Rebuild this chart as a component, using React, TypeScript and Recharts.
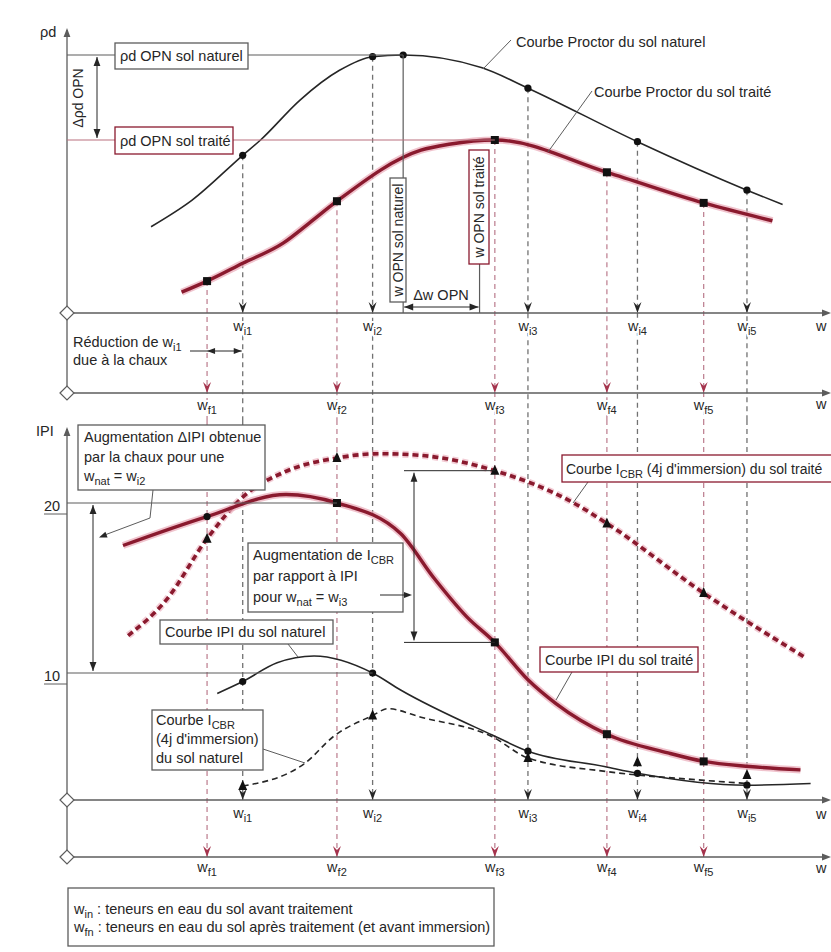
import React from 'react';
import {
  ComposedChart,
  Line,
  XAxis,
  YAxis,
  ReferenceLine,
  ReferenceDot,
} from 'recharts';

const W = 831;
const H = 952;
const LEFT = 67;
const W_MAX = 30;

const FONT = '"Liberation Sans", Arial, Helvetica, sans-serif';
const INK = '#262626';
const GREY = '#5c5c5c';
const RED = '#8a1a2e';
const RED_HALO = '#eaa9b8';
const RED_THIN = '#b9707f';
const DASH_BLACK = '#727272';
const DASH_RED = '#c08595';
const RED_HEAD = '#a5344d';

// teneurs en eau (%) avant (wi) et après (wf) traitement
const wI = [6.9, 12.0, 18.1, 22.4, 26.7];
const wF = [5.5, 10.6, 16.8, 21.2, 25.0];
const subsI = ['i1', 'i2', 'i3', 'i4', 'i5'];
const subsF = ['f1', 'f2', 'f3', 'f4', 'f5'];
const wOpnNaturel = 13.2;
const wOpnTraite = 16.2;
const rhoOpnNaturel = 1.9;
const rhoOpnTraite = 1.8;
const ipiTicks = [10, 20];

// courbes Proctor (ρd, t/m³) ; m = point d'essai
const proctorNaturel = [
  { w: 3.3, rho: 1.698 },
  { w: 4.9, rho: 1.729 },
  { w: wI[0], rho: 1.782, m: 'o' },
  { w: 7.6, rho: 1.8 },
  { w: 9.15, rho: 1.847 },
  { w: 10.7, rho: 1.882 },
  { w: wI[1], rho: 1.898, m: 'o' },
  { w: wOpnNaturel, rho: rhoOpnNaturel, m: 'o' },
  { w: 16.3, rho: 1.885 },
  { w: wI[2], rho: 1.861, m: 'o' },
  { w: wI[3], rho: 1.798, m: 'o' },
  { w: wI[4], rho: 1.741, m: 'o' },
  { w: 28.1, rho: 1.724 },
];

const proctorTraite = [
  { w: 4.5, rho: 1.621 },
  { w: wF[0], rho: 1.634, m: 's' },
  { w: 6.9, rho: 1.655 },
  { w: 8.5, rho: 1.679 },
  { w: 9.5, rho: 1.702 },
  { w: wF[1], rho: 1.728, m: 's' },
  { w: 13.9, rho: 1.788 },
  { w: 15.0, rho: 1.795 },
  { w: wF[2], rho: rhoOpnTraite, m: 's' },
  { w: wF[3], rho: 1.762, m: 's' },
  { w: wF[4], rho: 1.726, m: 's' },
  { w: 27.7, rho: 1.705 },
];

// courbes IPI et ICBR
const ipiTraite = [
  { w: 2.2, ipi: 17.5 },
  { w: wF[0], ipi: 19.2, m: 'o' },
  { w: 8.6, ipi: 20.5 },
  { w: wF[1], ipi: 20.0, m: 's' },
  { w: 13.1, ipi: 18.2 },
  { w: 14.4, ipi: 15.6 },
  { w: 15.7, ipi: 13.3 },
  { w: wF[2], ipi: 11.8, m: 's' },
  { w: 18.1, ipi: 9.6 },
  { w: 19.2, ipi: 8.2 },
  { w: wF[3], ipi: 6.4, m: 's' },
  { w: 23.6, ipi: 5.3 },
  { w: wF[4], ipi: 4.8, m: 's' },
  { w: 26.8, ipi: 4.5 },
  { w: 28.8, ipi: 4.3 },
];

const cbrTraite = [
  { w: 2.4, ipi: 12.2 },
  { w: 3.9, ipi: 14.3 },
  { w: wF[0], ipi: 17.9, m: '^' },
  { w: 6.9, ipi: 20.35 },
  { w: 8.5, ipi: 21.8 },
  { w: wF[1], ipi: 22.65, m: '^' },
  { w: 12.3, ipi: 22.9 },
  { w: 13.9, ipi: 22.8 },
  { w: wF[2], ipi: 21.9, m: '^' },
  { w: 19.9, ipi: 20.0 },
  { w: wF[3], ipi: 18.8, m: '^' },
  { w: wF[4], ipi: 14.7, m: '^' },
  { w: 29.0, ipi: 10.9 },
];

const ipiNaturel = [
  { w: 5.9, ipi: 8.8 },
  { w: wI[0], ipi: 9.5, m: 'o' },
  { w: 8.25, ipi: 10.6 },
  { w: 9.7, ipi: 11.0 },
  { w: wI[1], ipi: 10.0, m: 'o' },
  { w: 13.1, ipi: 9.0 },
  { w: 16.7, ipi: 6.35 },
  { w: wI[2], ipi: 5.4, m: 'o' },
  { w: 21.1, ipi: 4.5 },
  { w: wI[3], ipi: 4.1, m: 'o' },
  { w: wI[4], ipi: 3.4, m: 'o' },
  { w: 29.2, ipi: 3.5 },
];

const cbrNaturel = [
  { w: wI[0], ipi: 3.35, m: '^' },
  { w: 9.35, ipi: 4.7 },
  { w: 10.45, ipi: 6.25 },
  { w: wI[1], ipi: 7.5, m: '^' },
  { w: 12.6, ipi: 7.9 },
  { w: 13.9, ipi: 7.4 },
  { w: 16.7, ipi: 6.25 },
  { w: wI[2], ipi: 5.0, m: '^' },
  { w: 21.2, ipi: 4.2 },
  { w: 24.9, ipi: 3.7 },
  { w: wI[4], ipi: 3.5 },
];

// repères ICBR du sol naturel aux fortes teneurs en eau
const cbrNaturelReperes = [
  { w: wI[3], ipi: 4.75, m: '^' },
  { w: wI[4], ipi: 4.0, m: '^' },
];

// axes horizontaux (px) et jonction des deux graphes
const Y_WI_TOP = 313;
const Y_WF_TOP = 393;
const Y_WI_BOT = 800;
const Y_WF_BOT = 857;
const Y_SPLIT = 420;

// ρd : ancré sur les deux OPN
const RHO_Y0 = 55;
const RHO_Y1 = 140;
const rhoPx = (rhoOpnNaturel - rhoOpnTraite) / (RHO_Y1 - RHO_Y0);
const rhoAt = (py: number) => rhoOpnNaturel - (py - RHO_Y0) * rhoPx;
const yR = (rho: number) => RHO_Y0 + (rhoOpnNaturel - rho) / rhoPx;
const rhoDomain = [rhoAt(H), rhoAt(0)];

// IPI : ancré sur les graduations 20 et 10
const IPI_Y20 = 503;
const IPI_Y10 = 673;
const ipiPx = 10 / (IPI_Y10 - IPI_Y20);
const ipiAt = (py: number) => 20 - (py - IPI_Y20) * ipiPx;
const yI = (v: number) => IPI_Y20 + (20 - v) / ipiPx;
const ipiDomain = [ipiAt(H), ipiAt(0)];

const xw = (w: number) => LEFT + (w * (W - LEFT)) / W_MAX;

const valAt = (rows: any[], w: number, key: string) => rows.find((r) => r.w === w)[key];

const FS = 14.5;
const SUB = 11;
const txt = { fontFamily: FONT, fontSize: FS, fill: INK };
const halo = {
  stroke: '#fff',
  strokeWidth: 4,
  paintOrder: 'stroke' as const,
  strokeLinejoin: 'round' as const,
};

const marker = (p: any) => {
  const { cx, cy, payload, index } = p;
  const k = `m${index}`;
  if (!payload || !payload.m || cx == null || cy == null) return <g key={k} />;
  if (payload.m === 's')
    return <rect key={k} x={cx - 4} y={cy - 4} width={8} height={8} fill="#111" />;
  if (payload.m === '^')
    return <path key={k} d={`M${cx},${cy - 6} L${cx + 4.5},${cy + 4} L${cx - 4.5},${cy + 4} Z`} fill="#111" />;
  return <circle key={k} cx={cx} cy={cy} r={3.6} fill="#111" />;
};

const arrowDown = (color: string) => (p: any) => (
  <path
    d={`M${p.cx},${p.cy} L${p.cx - 4},${p.cy - 11} L${p.cx},${p.cy - 7} L${p.cx + 4},${p.cy - 11} Z`}
    fill={color}
  />
);

const head = (x: number, y: number, angle: number, color = INK, size = 9) => (
  <path
    d={`M0,0 L${-size},${-size * 0.38} L${-size},${size * 0.38} Z`}
    transform={`translate(${x},${y}) rotate(${angle})`}
    fill={color}
  />
);

const WLab = ({ x, y, s }: { x: number; y: number; s: string }) => (
  <text x={x} y={y} textAnchor="middle" {...txt} {...halo}>
    w<tspan fontSize={SUB} dy={4}>{s}</tspan>
  </text>
);

const IpiTick = (p: any) => {
  const { y, payload } = p;
  return (
    <g>
      <text x={52} y={y + 8} textAnchor="middle" {...txt}>
        {payload.value}
      </text>
      <line x1={44} y1={y + 11} x2={LEFT} y2={y + 11} stroke={GREY} strokeWidth={1} />
    </g>
  );
};

function Notes() {
  const rhoNatY = yR(rhoOpnNaturel);
  const rhoTrtY = yR(rhoOpnTraite);
  const ipi20 = yI(valAt(ipiTraite, wF[1], 'ipi'));
  const ipi10 = yI(valAt(ipiNaturel, wI[1], 'ipi'));
  const cbr3 = yI(valAt(cbrTraite, wF[2], 'ipi'));
  const ipi3 = yI(valAt(ipiTraite, wF[2], 'ipi'));
  const box = (x: number, y: number, w: number, h: number, stroke: string) => (
    <rect x={x} y={y} width={w} height={h} fill="#fff" stroke={stroke} strokeWidth={1.3} />
  );

  return (
    <g>
      {/* axes */}
      <line x1={LEFT} y1={30} x2={LEFT} y2={Y_WF_TOP} stroke={GREY} strokeWidth={1.3} />
      {head(LEFT, 28, -90, GREY)}
      <line x1={LEFT} y1={429} x2={LEFT} y2={Y_WF_BOT} stroke={GREY} strokeWidth={1.3} />
      {head(LEFT, 427, -90, GREY)}
      {[Y_WI_TOP, Y_WF_TOP, Y_WI_BOT, Y_WF_BOT].map((y) => (
        <g key={y}>
          <line x1={LEFT} y1={y} x2={W - 3} y2={y} stroke={GREY} strokeWidth={1.3} />
          {head(W, y, 0, GREY)}
          <path
            d={`M${LEFT - 7},${y} L${LEFT},${y - 7} L${LEFT + 7},${y} L${LEFT},${y + 7} Z`}
            fill="#fff"
            stroke={GREY}
            strokeWidth={1.2}
          />
        </g>
      ))}
      <text x={40} y={37} {...txt}>ρd</text>
      <text x={36} y={436} {...txt}>IPI</text>
      <text x={816} y={331} {...txt}>w</text>
      <text x={816} y={409} {...txt}>w</text>
      <text x={816} y={819} {...txt}>w</text>
      <text x={816} y={873} {...txt}>w</text>

      {wI.map((w, i) => (
        <g key={`li${i}`}>
          <WLab x={xw(w)} y={331} s={subsI[i]} />
          <WLab x={xw(w)} y={818} s={subsI[i]} />
        </g>
      ))}
      {wF.map((w, i) => (
        <g key={`lf${i}`}>
          <WLab x={xw(w)} y={410} s={subsF[i]} />
          <WLab x={xw(w)} y={872} s={subsF[i]} />
        </g>
      ))}

      {/* graphe Proctor */}
      <line x1={LEFT} y1={rhoNatY} x2={xw(wOpnNaturel)} y2={rhoNatY} stroke={GREY} strokeWidth={1.2} />
      <line x1={xw(wOpnNaturel)} y1={rhoNatY} x2={xw(wOpnNaturel)} y2={Y_WI_TOP} stroke={GREY} strokeWidth={1.2} />
      <line x1={LEFT} y1={rhoTrtY} x2={xw(wF[2])} y2={rhoTrtY} stroke={RED_THIN} strokeWidth={1.2} />
      <line x1={xw(wOpnTraite)} y1={264} x2={xw(wOpnTraite)} y2={Y_WI_TOP} stroke={GREY} strokeWidth={1.2} />

      <line x1={97} y1={rhoNatY + 2} x2={97} y2={rhoTrtY - 2} stroke={INK} strokeWidth={1} />
      {head(97, rhoNatY + 2, -90)}
      {head(97, rhoTrtY - 2, 90)}
      <text transform={`translate(78,98) rotate(-90)`} textAnchor="middle" dominantBaseline="central" {...txt} fontSize={14}>
        Δρd OPN
      </text>

      {box(115, 43, 133, 26, GREY)}
      <text x={120} y={61} {...txt}>ρd OPN sol naturel</text>
      {box(115, 127, 118, 27, RED)}
      <text x={120} y={146} {...txt}>ρd OPN sol traité</text>

      {box(390, 178, 16, 124, GREY)}
      <text transform={`translate(398,240) rotate(-90)`} textAnchor="middle" dominantBaseline="central" {...txt} fontSize={14}>
        w OPN sol naturel
      </text>
      {box(469, 150, 20, 114, RED)}
      <text transform={`translate(479,207) rotate(-90)`} textAnchor="middle" dominantBaseline="central" {...txt} fontSize={14}>
        w OPN sol traité
      </text>

      <line x1={xw(wOpnNaturel) + 1} y1={307} x2={xw(wOpnTraite) - 1} y2={307} stroke={INK} strokeWidth={1} />
      {head(xw(wOpnNaturel) + 1, 307, 180)}
      {head(xw(wOpnTraite) - 1, 307, 0)}
      <text x={441} y={300} textAnchor="middle" {...txt}>Δw OPN</text>

      <line x1={483} y1={69} x2={511} y2={40} stroke={GREY} strokeWidth={1} />
      <text x={516} y={47} {...txt}>Courbe Proctor du sol naturel</text>
      <line x1={548} y1={152} x2={592} y2={91} stroke={GREY} strokeWidth={1} />
      <text x={594} y={97} {...txt}>Courbe Proctor du sol traité</text>

      <text x={73} y={347} {...txt}>
        Réduction de w<tspan fontSize={SUB} dy={4}>i1</tspan>
      </text>
      <text x={73} y={365} {...txt}>due à la chaux</text>
      <line x1={190} y1={351} x2={xw(wI[0]) - 1} y2={351} stroke={INK} strokeWidth={1} />
      {head(xw(wF[0]), 351, 180, INK, 8)}
      {head(xw(wI[0]) - 1, 351, 0, INK, 8)}

      {/* graphe IPI */}
      <line x1={LEFT} y1={ipi20} x2={xw(wF[1])} y2={ipi20} stroke={GREY} strokeWidth={1.2} />
      <line x1={LEFT} y1={ipi10} x2={xw(wI[1])} y2={ipi10} stroke={GREY} strokeWidth={1.2} />
      <line x1={93} y1={ipi20 + 2} x2={93} y2={ipi10 - 2} stroke={INK} strokeWidth={1} />
      {head(93, ipi20 + 2, -90)}
      {head(93, ipi10 - 2, 90)}

      {box(78, 425, 187, 65, GREY)}
      <text x={84} y={442} {...txt}>Augmentation ΔIPI obtenue</text>
      <text x={84} y={462} {...txt}>par la chaux pour une</text>
      <text x={84} y={481} {...txt}>
        w<tspan fontSize={SUB} dy={4}>nat</tspan>
        <tspan dy={-4}> = w</tspan>
        <tspan fontSize={SUB} dy={4}>i2</tspan>
      </text>
      <polyline points="153,490 150,518 102,536" fill="none" stroke={GREY} strokeWidth={1} />
      {head(99, 537.5, 159, INK, 8)}

      <line x1={404} y1={cbr3} x2={xw(wF[2])} y2={cbr3} stroke={INK} strokeWidth={1} />
      <line x1={404} y1={ipi3} x2={xw(wF[2])} y2={ipi3} stroke={INK} strokeWidth={1} />
      <line x1={414} y1={cbr3 + 2} x2={414} y2={ipi3 - 2} stroke={INK} strokeWidth={1} />
      {head(414, cbr3 + 2, -90)}
      {head(414, ipi3 - 2, 90)}

      {box(248, 543, 155, 69, GREY)}
      <text x={253} y={560} {...txt}>
        Augmentation de I<tspan fontSize={SUB} dy={4}>CBR</tspan>
      </text>
      <text x={253} y={581} {...txt}>par rapport à IPI</text>
      <text x={253} y={602} {...txt}>
        pour w<tspan fontSize={SUB} dy={4}>nat</tspan>
        <tspan dy={-4}> = w</tspan>
        <tspan fontSize={SUB} dy={4}>i3</tspan>
      </text>
      <line x1={380} y1={595} x2={405} y2={595} stroke={INK} strokeWidth={1} />
      {head(412, 595, 0, INK, 8)}

      <line x1={573} y1={503} x2={588} y2={482} stroke={GREY} strokeWidth={1} />
      {box(562, 455, 280, 27, RED)}
      <text x={566} y={474} {...txt} fontSize={14}>
        Courbe I<tspan fontSize={SUB} dy={4}>CBR</tspan>
        <tspan dy={-4}> (4j d'immersion) du sol traité</tspan>
      </text>

      <line x1={288} y1={644} x2={298} y2={657} stroke={GREY} strokeWidth={1} />
      {box(160, 620, 173, 24, GREY)}
      <text x={165} y={637} {...txt}>Courbe IPI du sol naturel</text>

      <line x1={556} y1={700} x2={572} y2={672} stroke={GREY} strokeWidth={1} />
      {box(540, 647, 158, 25, RED)}
      <text x={545} y={665} {...txt}>Courbe IPI du sol traité</text>

      <line x1={263} y1={749} x2={305} y2={763} stroke={GREY} strokeWidth={1} />
      {box(152, 710, 111, 60, GREY)}
      <text x={156} y={725} {...txt}>
        Courbe I<tspan fontSize={SUB} dy={4}>CBR</tspan>
      </text>
      <text x={156} y={744} {...txt}>(4j d'immersion)</text>
      <text x={156} y={763} {...txt}>du sol naturel</text>

      {/* légende */}
      {box(68, 888, 426, 58, GREY)}
      <text x={74} y={914} {...txt}>
        w<tspan fontSize={SUB} dy={4}>in</tspan>
        <tspan dy={-4}> : teneurs en eau du sol avant traitement</tspan>
      </text>
      <text x={74} y={932} {...txt}>
        w<tspan fontSize={SUB} dy={4}>fn</tspan>
        <tspan dy={-4}> : teneurs en eau du sol après traitement (et avant immersion)</tspan>
      </text>
    </g>
  );
}

export default function App() {
  return (
    <div style={{ position: 'absolute', left: 0, top: 0, width: W, height: H, background: '#fff' }}>
      <ComposedChart width={W} height={H} margin={{ top: 0, right: 0, bottom: 0, left: 0 }}>
        <XAxis type="number" dataKey="w" domain={[0, W_MAX]} allowDataOverflow hide />
        <YAxis yAxisId="rho" type="number" domain={rhoDomain} allowDataOverflow hide />
        <YAxis
          yAxisId="ipi"
          type="number"
          domain={ipiDomain}
          allowDataOverflow
          ticks={ipiTicks}
          interval={0}
          width={LEFT}
          axisLine={false}
          tickLine={false}
          tick={(p: any) => <IpiTick {...p} />}
        />

        {/* rappels verticaux des teneurs en eau */}
        {wI.map((w) => (
          <ReferenceLine
            key={`vit${w}`}
            yAxisId="rho"
            segment={[{ x: w, y: valAt(proctorNaturel, w, 'rho') }, { x: w, y: rhoAt(Y_SPLIT) }]}
            stroke={DASH_BLACK}
            strokeWidth={1.3}
            strokeDasharray="5 4"
            ifOverflow="visible"
          />
        ))}
        {wI.map((w) => (
          <ReferenceLine
            key={`vib${w}`}
            yAxisId="ipi"
            segment={[{ x: w, y: ipiAt(Y_SPLIT) }, { x: w, y: ipiAt(Y_WI_BOT) }]}
            stroke={DASH_BLACK}
            strokeWidth={1.3}
            strokeDasharray="5 4"
            ifOverflow="visible"
          />
        ))}
        {wF.map((w) => (
          <ReferenceLine
            key={`vft${w}`}
            yAxisId="rho"
            segment={[{ x: w, y: valAt(proctorTraite, w, 'rho') }, { x: w, y: rhoAt(Y_SPLIT) }]}
            stroke={DASH_RED}
            strokeWidth={1.3}
            strokeDasharray="5 4"
            ifOverflow="visible"
          />
        ))}
        {wF.map((w) => (
          <ReferenceLine
            key={`vfb${w}`}
            yAxisId="ipi"
            segment={[{ x: w, y: ipiAt(Y_SPLIT) }, { x: w, y: ipiAt(Y_WF_BOT) }]}
            stroke={DASH_RED}
            strokeWidth={1.3}
            strokeDasharray="5 4"
            ifOverflow="visible"
          />
        ))}

        {wI.map((w) => (
          <ReferenceDot key={`ait${w}`} yAxisId="rho" x={w} y={rhoAt(Y_WI_TOP)} r={0} shape={arrowDown(INK)} ifOverflow="visible" />
        ))}
        {wI.map((w) => (
          <ReferenceDot key={`aib${w}`} yAxisId="ipi" x={w} y={ipiAt(Y_WI_BOT)} r={0} shape={arrowDown(INK)} ifOverflow="visible" />
        ))}
        {wF.map((w) => (
          <ReferenceDot key={`aft${w}`} yAxisId="rho" x={w} y={rhoAt(Y_WF_TOP)} r={0} shape={arrowDown(RED_HEAD)} ifOverflow="visible" />
        ))}
        {wF.map((w) => (
          <ReferenceDot key={`afb${w}`} yAxisId="ipi" x={w} y={ipiAt(Y_WF_BOT)} r={0} shape={arrowDown(RED_HEAD)} ifOverflow="visible" />
        ))}

        {/* Proctor */}
        <Line yAxisId="rho" data={proctorNaturel} dataKey="rho" type="monotone" stroke={INK} strokeWidth={1.6} dot={marker} activeDot={false} isAnimationActive={false} />
        <Line yAxisId="rho" data={proctorTraite} dataKey="rho" type="monotone" stroke={RED_HALO} strokeWidth={7} strokeOpacity={0.7} dot={false} activeDot={false} isAnimationActive={false} />
        <Line yAxisId="rho" data={proctorTraite} dataKey="rho" type="monotone" stroke={RED} strokeWidth={3.4} dot={marker} activeDot={false} isAnimationActive={false} />

        {/* IPI / ICBR */}
        <Line yAxisId="ipi" data={cbrTraite} dataKey="ipi" type="monotone" stroke={RED_HALO} strokeWidth={7} strokeOpacity={0.6} strokeDasharray="6 4" dot={false} activeDot={false} isAnimationActive={false} />
        <Line yAxisId="ipi" data={cbrTraite} dataKey="ipi" type="monotone" stroke={RED} strokeWidth={3.6} strokeDasharray="6 4" dot={marker} activeDot={false} isAnimationActive={false} />
        <Line yAxisId="ipi" data={ipiTraite} dataKey="ipi" type="monotone" stroke={RED_HALO} strokeWidth={7} strokeOpacity={0.7} dot={false} activeDot={false} isAnimationActive={false} />
        <Line yAxisId="ipi" data={ipiTraite} dataKey="ipi" type="monotone" stroke={RED} strokeWidth={3.4} dot={marker} activeDot={false} isAnimationActive={false} />
        <Line yAxisId="ipi" data={ipiNaturel} dataKey="ipi" type="monotone" stroke={INK} strokeWidth={1.6} dot={marker} activeDot={false} isAnimationActive={false} />
        <Line yAxisId="ipi" data={cbrNaturel} dataKey="ipi" type="monotone" stroke={INK} strokeWidth={1.6} strokeDasharray="6 4" dot={marker} activeDot={false} isAnimationActive={false} />
        <Line yAxisId="ipi" data={cbrNaturelReperes} dataKey="ipi" stroke="none" dot={marker} activeDot={false} isAnimationActive={false} />
      </ComposedChart>
      <svg width={W} height={H} style={{ position: 'absolute', left: 0, top: 0, pointerEvents: 'none' }}>
        <Notes />
      </svg>
    </div>
  );
}
